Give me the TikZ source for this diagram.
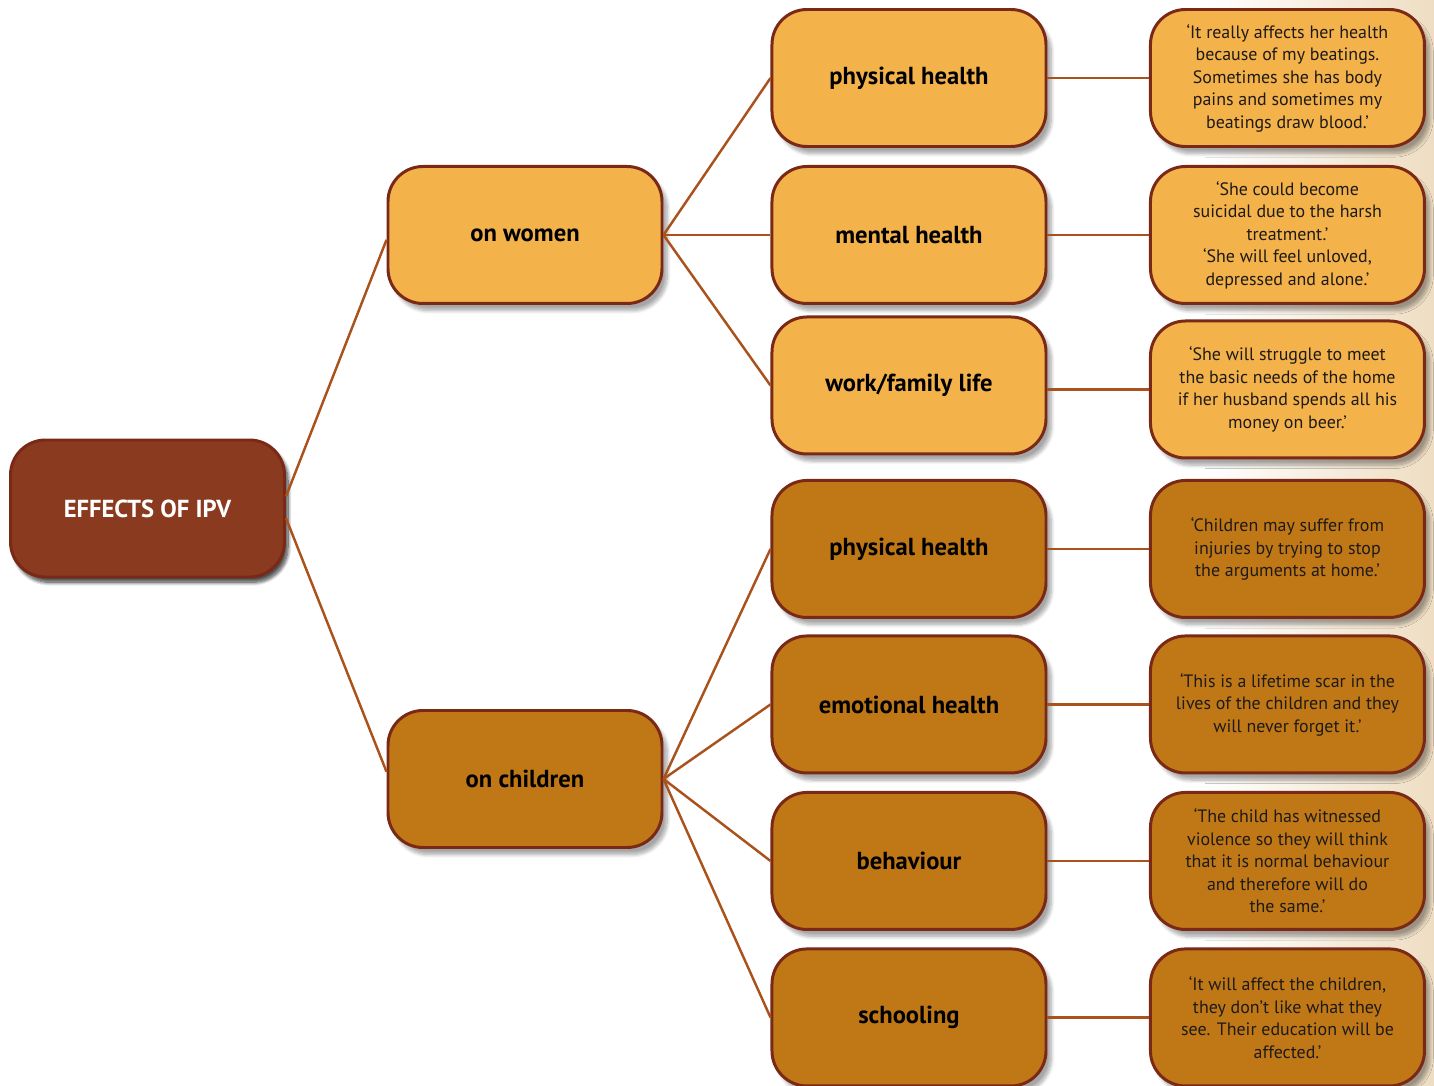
\documentclass[tikz,border=0pt]{standalone}
\usepackage{fontspec}
\setmainfont{PT Sans}
\usepackage{tikz}
\usetikzlibrary{positioning,shadows.blur}

\definecolor{rootfill}{HTML}{8A3B1F}
\definecolor{womenfill}{HTML}{F4B24B}
\definecolor{childfill}{HTML}{C07817}
\definecolor{boxline}{HTML}{7B2917}
\definecolor{linkcol}{HTML}{A9521C}
\definecolor{quotetext}{HTML}{1E1A17}
\definecolor{photo}{HTML}{EEDDC2}

\begin{document}
\begin{tikzpicture}[-,line width=1.4pt,draw=linkcol,node distance=2.14cm]
		\tikzstyle{box}=[draw=boxline,line width=1.7pt,rounded corners=0.7cm,minimum width=5.48cm,minimum height=2.74cm,align=center,blur shadow={shadow xshift=3pt,shadow yshift=-4pt,shadow blur steps=8,shadow opacity=35}]
		\tikzstyle{rootbox}=[box,fill=rootfill,text=white,font=\fontsize{14}{16}\selectfont\bfseries,blur shadow={shadow xshift=2pt,shadow yshift=-3pt,shadow blur steps=10,shadow opacity=45,shadow blur extra rounding=5pt}]
		\tikzstyle{women}=[box,fill=womenfill,text=black,font=\fontsize{14}{16}\selectfont\bfseries]
		\tikzstyle{child}=[box,fill=childfill,text=black,font=\fontsize{14}{16}\selectfont\bfseries]
		\tikzstyle{quote}=[font=\fontsize{10.2}{12.8}\selectfont,text=quotetext]

		\useasboundingbox (0,0) rectangle (28.68,-21.72);
		% faint photo behind the quotes
		\shade[left color=white,right color=photo,draw=none] (24.1,0) rectangle (28.68,-21.72);

		\node[rootbox] (R) at (2.95,-10.17) {EFFECTS OF IPV};
		\node[women] (W) at (10.5,-4.70) {on women};
		\node[child] (C) at (10.5,-15.58) {on children};

		\node[women] (W2) [right=2.14cm of W] {mental health};
		\node[women] (W1) [above=0.34cm of W2] {physical health};
		\node[women] (W3) [below=0.21cm of W2] {work/family life};
		\node[child] (C1) [below=0.47cm of W3] {physical health};
		\node[child] (C2) [below=0.31cm of C1] {emotional health};
		\node[child] (C3) [below=0.33cm of C2] {behaviour};
		\node[child] (C4) [below=0.33cm of C3] {schooling};

		\node[women,quote] (Q1) [right=2.03cm of W1] {‘It really affects her health\\because of my beatings.\\Sometimes she has body\\pains and sometimes my\\beatings draw blood.’};
		\node[women,quote] (Q2) [right=2.03cm of W2] {‘She could become\\suicidal due to the harsh\\treatment.’\\‘She will feel unloved,\\depressed and alone.’};
		\node[women,quote] (Q3) [right=2.03cm of W3,yshift=-0.08cm] {‘She will struggle to meet\\the basic needs of the home\\if her husband spends all his\\money on beer.’};
		\node[child,quote] (Q4) [right=2.03cm of C1] {‘Children may suffer from\\injuries by trying to stop\\the arguments at home.’};
		\node[child,quote] (Q5) [right=2.03cm of C2] {‘This is a lifetime scar in the\\lives of the children and they\\will never forget it.’};
		\node[child,quote] (Q6) [right=2.03cm of C3] {‘The child has witnessed\\violence so they will think\\that it is normal behaviour\\and therefore will do\\the same.’};
		\node[child,quote] (Q7) [right=2.03cm of C4] {‘It will affect the children,\\they don’t like what they\\see. Their education will be\\affected.’};

		\path (R.5) edge (W.182);
		\path (R.-4) edge (C.177);

		\path (W.east) edge (W1.west);
		\path (W.east) edge (W2.west);
		\path (W.east) edge (W3.west);

		\path (C.east) edge (C1.west);
		\path (C.east) edge (C2.west);
		\path (C.east) edge (C3.west);
		\path (C.east) edge (C4.west);

		\path (W1) edge (Q1);
		\path (W2) edge (Q2);
		\path ([yshift=-0.08cm]W3.east) edge (Q3.west);
		\path (C1) edge (Q4);
		\path (C2) edge (Q5);
		\path (C3) edge (Q6);
		\path (C4) edge (Q7);
	\end{tikzpicture}
\end{document}
